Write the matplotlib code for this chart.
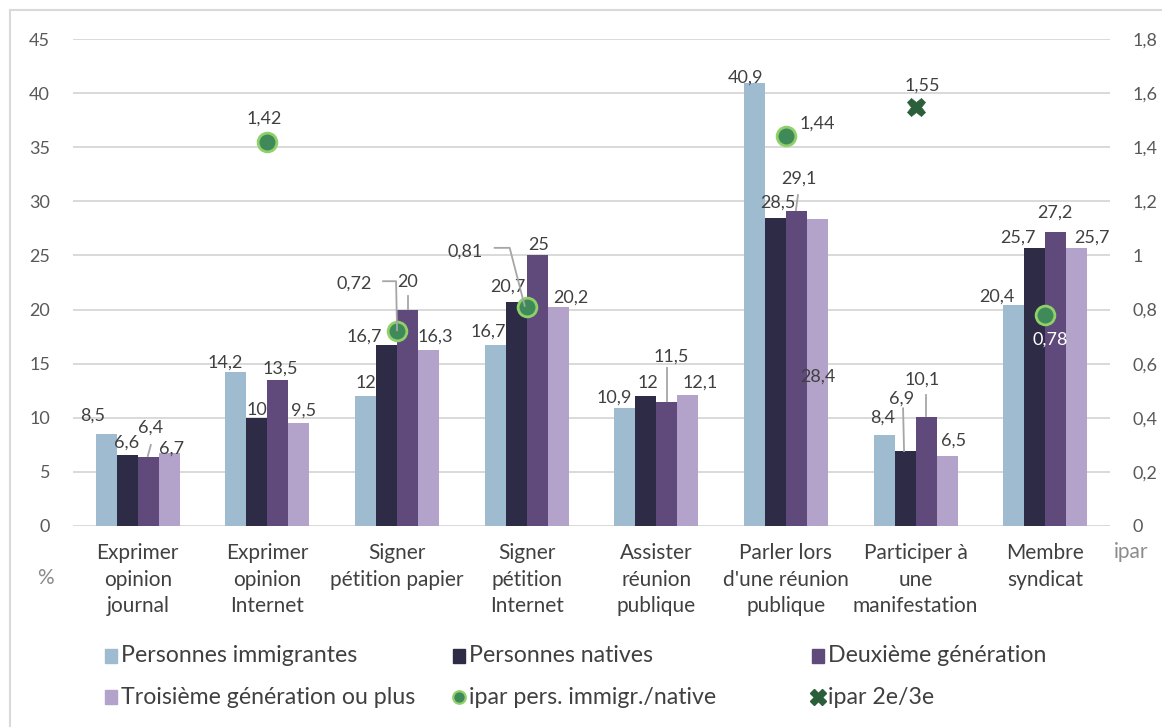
import matplotlib
matplotlib.use("Agg")
import matplotlib.pyplot as plt
from matplotlib.lines import Line2D
from matplotlib.patches import Rectangle
from matplotlib.transforms import IdentityTransform
import numpy as np

plt.rcParams["font.family"] = ["Lato", "DejaVu Sans"]

# ---- data -------------------------------------------------------------
categories = [
    "Exprimer\nopinion\njournal",
    "Exprimer\nopinion\nInternet",
    "Signer\npétition papier",
    "Signer\npétition\nInternet",
    "Assister\nréunion\npublique",
    "Parler lors\nd'une réunion\npublique",
    "Participer à\nune\nmanifestation",
    "Membre\nsyndicat",
]
series_names = [
    "Personnes immigrantes",
    "Personnes natives",
    "Deuxième génération",
    "Troisième génération ou plus",
]
immigrantes = [8.5, 14.2, 12, 16.7, 10.9, 40.9, 8.4, 20.4]
natives = [6.6, 10, 16.7, 20.7, 12, 28.5, 6.9, 25.7]
deuxieme = [6.4, 13.5, 20, 25, 11.5, 29.1, 10.1, 27.2]
troisieme = [6.7, 9.5, 16.3, 20.2, 12.1, 28.4, 6.5, 25.7]

ipar_immigr_name = "ipar pers. immigr./native"
ipar_immigr_cat = [1, 2, 3, 5, 7]
ipar_immigr = [1.42, 0.72, 0.81, 1.44, 0.78]

ipar_gen_name = "ipar 2e/3e"
ipar_gen_cat = [6]
ipar_gen = [1.55]

left_ticks = [0, 5, 10, 15, 20, 25, 30, 35, 40, 45]
right_ticks = [0, 0.2, 0.4, 0.6, 0.8, 1.0, 1.2, 1.4, 1.6, 1.8]

# ---- style --------------------------------------------------------------
bar_colors = ["#9fbbcf", "#2e2b47", "#5f4a7b", "#b3a2c9"]
dot_face, dot_edge = "#3f8a58", "#8fd06a"
cross_color = "#2b5e3b"
grid_color = "#d9d9d9"
text_color = "#404040"
tick_color = "#595959"

W, H = 1162, 727
LABEL_FS = 13
TICK_FS = 13
CAT_FS = 15
LEG_FS = 16.7


def fr(v):
    return f"{v:g}".replace(".", ",")


fig = plt.figure(figsize=(W / 100, H / 100), dpi=100)
ax = fig.add_axes([73 / W, 1 - 526 / H, (1110 - 73) / W, (526 - 39) / H])
ax2 = ax.twinx()

x = np.arange(len(categories))
bar_w = 0.162
series = [immigrantes, natives, deuxieme, troisieme]
for j, (vals, col, name) in enumerate(zip(series, bar_colors, series_names)):
    ax.bar(x + (j - 1.5) * bar_w, vals, bar_w, color=col, label=name, zorder=2)

ax.set_xlim(-0.5, len(categories) - 0.5)
ax.set_ylim(0, 45)
ax2.set_ylim(0, 1.8)
ax.set_yticks(left_ticks)
ax.set_yticklabels([fr(t) for t in left_ticks])
ax2.set_yticks(right_ticks)
ax2.set_yticklabels([fr(round(t, 1)) for t in right_ticks])
ax.set_xticks(x)
ax.set_xticklabels(categories, fontsize=CAT_FS, color=text_color, linespacing=1.43)

ax.set_axisbelow(True)
ax.grid(axis="y", color=grid_color, lw=1.4)
ax.grid(axis="x", visible=False)
for a in (ax, ax2):
    for s in a.spines.values():
        s.set_visible(False)
ax.tick_params(axis="y", length=0, pad=16.5, labelsize=TICK_FS, labelcolor=tick_color)
ax2.tick_params(axis="y", length=0, pad=16.5, labelsize=TICK_FS, labelcolor=tick_color)
ax.tick_params(axis="x", length=0, pad=12)

# ---- markers on the secondary axis -----------------------------------------
ax2.plot(ipar_immigr_cat, ipar_immigr, "o", ms=13.5, mfc=dot_face, mec=dot_edge,
         mew=2, ls="none", zorder=3)
ax2.plot(ipar_gen_cat, ipar_gen, "X", ms=13, mfc=cross_color, mec=cross_color,
         mew=0.5, ls="none", zorder=3)

# ---- data labels (pixel offsets from the mark) ------------------------------
bar_label_offsets = [
    [(-13.5, 18), (-11, 10), (0, 13), (-7, 14), (-11, 10), (-8.5, 6), (-1, 17), (-17, 9)],
    [(-0.5, 11.6), (0, 8), (-22, 9), (-8, 15), (2, 13), (2.5, 14.6), (-4, 53), (-17, 10)],
    [(2.5, 28.7), (2, 11), (0, 27.6), (1, 10.5), (4, 45), (2.5, 32), (-4, 37), (-1, 18.6)],
    [(2.5, 4.5), (5, 13), (7, 12.6), (13, 10), (12, 12), (0.5, -158), (7, 15), (15, 10)],
]
bar_leaders = {
    (2, 0): [(2.5, 11.7), (-0.5, 0.7)],
    (2, 2): [(0, 13.6), (0, 0.6)],
    (2, 4): [(0, 33.5), (0, 0.5)],
    (2, 5): [(1.5, 16), (-0.5, 1)],
    (1, 6): [(-2, 43), (-1, 0.3)],
    (2, 6): [(0, 21.7), (0, 0.7)],
}
dot_label_offsets = [(-3.6, 23), (-43, 48), (-62, 55), (31, 13), (5, -25)]
dot_label_colors = [text_color, text_color, text_color, text_color, "white"]
dot_leaders = {
    1: [(-14, 50), (-1, 50), (0, 1)],
    2: [(-32, 59), (-17, 59), (-2, 1)],
}
cross_label_offsets = [(7, 21)]

leader_kw = dict(color="#a6a6a6", lw=1.3, transform=IdentityTransform(), zorder=4)


def draw_leader(axis, xd, yd, rel):
    px, py = axis.transData.transform((xd, yd))
    fig.add_artist(Line2D([px + dx for dx, _ in rel], [py + dy for _, dy in rel], **leader_kw))


for j, vals in enumerate(series):
    for i, v in enumerate(vals):
        xb = x[i] + (j - 1.5) * bar_w
        ax.annotate(fr(v), (xb, v), xytext=bar_label_offsets[j][i],
                    textcoords="offset pixels", ha="center", va="center",
                    fontsize=LABEL_FS, color=text_color, zorder=5)
        if (j, i) in bar_leaders:
            draw_leader(ax, xb, v, bar_leaders[(j, i)])

for k, (c, v) in enumerate(zip(ipar_immigr_cat, ipar_immigr)):
    ax2.annotate(fr(v), (c, v), xytext=dot_label_offsets[k], textcoords="offset pixels",
                 ha="center", va="center", fontsize=LABEL_FS, color=dot_label_colors[k],
                 zorder=5)
    if k in dot_leaders:
        draw_leader(ax2, c, v, dot_leaders[k])

for k, (c, v) in enumerate(zip(ipar_gen_cat, ipar_gen)):
    ax2.annotate(fr(v), (c, v), xytext=cross_label_offsets[k], textcoords="offset pixels",
                 ha="center", va="center", fontsize=LABEL_FS, color=text_color, zorder=5)

# ---- axis unit captions ---------------------------------------------------------
fig.text(45 / W, 1 - 578 / H, "%", ha="center", va="center", fontsize=CAT_FS, color="#8c8c8c")
fig.text(1131 / W, 1 - 552 / H, "ipar", ha="center", va="center", fontsize=CAT_FS, color="#8c8c8c")

# ---- legend ---------------------------------------------------------------------
leg_cols = [105, 453, 812]
leg_rows = [656, 697]
legend_items = [
    ("bar", bar_colors[0], series_names[0]),
    ("bar", bar_colors[1], series_names[1]),
    ("bar", bar_colors[2], series_names[2]),
    ("bar", bar_colors[3], series_names[3]),
    ("dot", None, ipar_immigr_name),
    ("cross", None, ipar_gen_name),
]
for n, (kind, col, name) in enumerate(legend_items):
    lx = leg_cols[n % 3]
    ly = H - leg_rows[n // 3]
    if kind == "bar":
        fig.add_artist(Rectangle((lx, ly - 7), 12, 14, color=col, transform=IdentityTransform()))
    elif kind == "dot":
        fig.add_artist(Line2D([lx + 6], [ly], marker="o", ms=9, mfc=dot_face, mec=dot_edge,
                              mew=1.6, transform=IdentityTransform()))
    else:
        fig.add_artist(Line2D([lx + 6], [ly], marker="X", ms=11, mfc=cross_color,
                              mec=cross_color, transform=IdentityTransform()))
    fig.text((lx + 16) / W, ly / H, name, ha="left", va="center", fontsize=LEG_FS,
             color=text_color)

# ---- outer frame ------------------------------------------------------------------
frame_kw = dict(color=grid_color, lw=1.5, transform=IdentityTransform())
fig.add_artist(Line2D([10, 10], [0, H - 10], **frame_kw))
fig.add_artist(Line2D([10, W], [H - 10, H - 10], **frame_kw))

fig.savefig("out.png", dpi=100)
